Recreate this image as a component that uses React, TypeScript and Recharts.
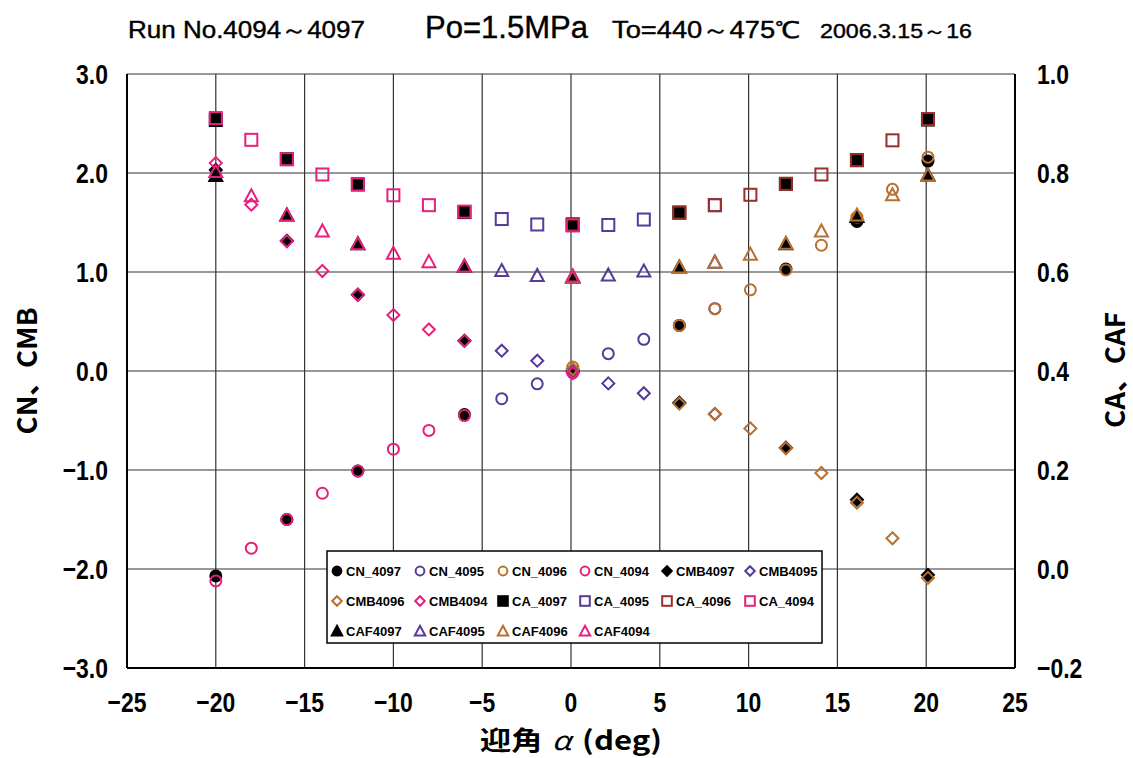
import React from "react";
import {
  ScatterChart,
  Scatter,
  XAxis,
  YAxis,
  CartesianGrid,
} from "recharts";

// 迎角 (deg) for each run
const alpha4097 = [-20, -16, -12, -6, 0.1, 6.1, 12.1, 16.1, 20.1];
const alpha4095 = [-3.9, -1.9, 0.1, 2.1, 4.1, 8.1];
const alpha4096 = [0.1, 6.1, 8.1, 10.1, 12.1, 14.1, 16.1, 18.1, 20.1];
const alpha4094 = [-20, -18, -16, -14, -12, -10, -8, -6, 0.1];

// CN (left axis)
const cn4097 = [-2.07, -1.5, -1.01, -0.44, 0.0, 0.46, 1.03, 1.51, 2.12];
const cn4095 = [-0.28, -0.13, 0.0, 0.175, 0.32, 0.63];
const cn4096 = [0.04, 0.46, 0.63, 0.82, 1.02, 1.27, 1.555, 1.835, 2.16];
const cn4094 = [-2.12, -1.79, -1.5, -1.235, -1.01, -0.79, -0.6, -0.45, -0.02];

// CMB (left axis)
const cmb4097 = [2.03, 1.315, 0.77, 0.305, 0.0, -0.32, -0.775, -1.3, -2.06];
const cmb4095 = [0.205, 0.104, 0.0, -0.125, -0.225, -0.435];
const cmb4096 = [0.02, -0.33, -0.435, -0.58, -0.78, -1.03, -1.33, -1.69, -2.09];
const cmb4094 = [2.1, 1.68, 1.31, 1.01, 0.77, 0.565, 0.42, 0.305, -0.02];

// CA (right axis)
const ca4097 = [0.907, 0.828, 0.777, 0.721, 0.696, 0.72, 0.778, 0.826, 0.908];
const ca4095 = [0.707, 0.696, 0.696, 0.695, 0.706, 0.735];
const ca4096 = [0.695, 0.72, 0.735, 0.756, 0.778, 0.797, 0.826, 0.866, 0.909];
const ca4094 = [0.911, 0.867, 0.828, 0.797, 0.777, 0.755, 0.735, 0.722, 0.694];

// CAF (right axis)
const caf4097 = [0.795, 0.715, 0.657, 0.612, 0.59, 0.61, 0.657, 0.712, 0.796];
const caf4095 = [0.603, 0.593, 0.59, 0.594, 0.602, 0.62];
const caf4096 = [0.59, 0.61, 0.62, 0.636, 0.658, 0.683, 0.715, 0.756, 0.796];
const caf4094 = [0.803, 0.754, 0.715, 0.683, 0.657, 0.638, 0.621, 0.612, 0.592];

const xTicks = [-25, -20, -15, -10, -5, 0, 5, 10, 15, 20, 25];
const leftTicks = [-3, -2, -1, 0, 1, 2, 3];
const rightTicks = [-0.2, 0, 0.2, 0.4, 0.6, 0.8, 1.0];

const BLACK = "#000000";
const PURPLE = "#553a9c";
const BROWN = "#b8702e";
const DARKRED = "#9a2e2a";
const PINK = "#e5207e";

const FONT = "'Liberation Sans', Arial, sans-serif";
const JFONT = "'Noto Sans CJK JP', 'Liberation Sans', sans-serif";

const zip = (xs: number[], ys: number[]) => xs.map((x, i) => ({ x, y: ys[i] }));

type Kind = "circle" | "diamond" | "square" | "triangle";

function marker(kind: Kind, color: string, filled: boolean, cx: number, cy: number, s = 1) {
  const fill = filled ? color : "none";
  const sw = 2;
  if (kind === "circle") {
    return <circle cx={cx} cy={cy} r={5.5 * s} fill={fill} stroke={color} strokeWidth={sw} />;
  }
  if (kind === "square") {
    const h = 6 * s;
    return <rect x={cx - h} y={cy - h} width={h * 2} height={h * 2} fill={fill} stroke={color} strokeWidth={sw} />;
  }
  if (kind === "diamond") {
    const h = 6 * s;
    return (
      <polygon
        points={`${cx},${cy - h} ${cx + h},${cy} ${cx},${cy + h} ${cx - h},${cy}`}
        fill={fill}
        stroke={color}
        strokeWidth={sw}
      />
    );
  }
  const h = 6.5 * s;
  return (
    <polygon
      points={`${cx},${cy - h} ${cx + h},${cy + h * 0.85} ${cx - h},${cy + h * 0.85}`}
      fill={fill}
      stroke={color}
      strokeWidth={sw}
    />
  );
}

const series = [
  { name: "CN_4097", kind: "circle", color: BLACK, filled: true, axis: "left", data: zip(alpha4097, cn4097) },
  { name: "CN_4095", kind: "circle", color: PURPLE, filled: false, axis: "left", data: zip(alpha4095, cn4095) },
  { name: "CN_4096", kind: "circle", color: BROWN, filled: false, axis: "left", data: zip(alpha4096, cn4096) },
  { name: "CN_4094", kind: "circle", color: PINK, filled: false, axis: "left", data: zip(alpha4094, cn4094) },
  { name: "CMB4097", kind: "diamond", color: BLACK, filled: true, axis: "left", data: zip(alpha4097, cmb4097) },
  { name: "CMB4095", kind: "diamond", color: PURPLE, filled: false, axis: "left", data: zip(alpha4095, cmb4095) },
  { name: "CMB4096", kind: "diamond", color: BROWN, filled: false, axis: "left", data: zip(alpha4096, cmb4096) },
  { name: "CMB4094", kind: "diamond", color: PINK, filled: false, axis: "left", data: zip(alpha4094, cmb4094) },
  { name: "CA_4097", kind: "square", color: BLACK, filled: true, axis: "right", data: zip(alpha4097, ca4097) },
  { name: "CA_4095", kind: "square", color: PURPLE, filled: false, axis: "right", data: zip(alpha4095, ca4095) },
  { name: "CA_4096", kind: "square", color: DARKRED, filled: false, axis: "right", data: zip(alpha4096, ca4096) },
  { name: "CA_4094", kind: "square", color: PINK, filled: false, axis: "right", data: zip(alpha4094, ca4094) },
  { name: "CAF4097", kind: "triangle", color: BLACK, filled: true, axis: "right", data: zip(alpha4097, caf4097) },
  { name: "CAF4095", kind: "triangle", color: PURPLE, filled: false, axis: "right", data: zip(alpha4095, caf4095) },
  { name: "CAF4096", kind: "triangle", color: BROWN, filled: false, axis: "right", data: zip(alpha4096, caf4096) },
  { name: "CAF4094", kind: "triangle", color: PINK, filled: false, axis: "right", data: zip(alpha4094, caf4094) },
] as { name: string; kind: Kind; color: string; filled: boolean; axis: string; data: { x: number; y: number }[] }[];

const minus = (s: string) => s.replace("-", "\u2212");

// condensed, tall bold tick labels
function makeTick(fmt: (v: number) => string, anchor: string, dy: string) {
  return (p: any) => (
    <g transform={`translate(${p.x},${p.y})`}>
      <text
        x={0}
        y={0}
        dy={dy}
        textAnchor={anchor}
        transform="scale(0.82,1)"
        fill="#000"
        fontSize={28}
        fontWeight="bold"
        fontFamily={FONT}
      >
        {fmt(p.payload.value)}
      </text>
    </g>
  );
}

const fmtX = (v: number) => minus(String(v));
const fmtY = (v: number) => minus(v.toFixed(1));

// legend layout: 6 columns, 3 rows
const legendCols = [337, 420, 503, 585, 667, 750];
const legendRows = [571, 601, 631];

export default function App() {
  return (
    <div style={{ position: "absolute", left: 0, top: 0, width: 1133, height: 758, background: "#fff" }}>
      <ScatterChart width={1133} height={758} margin={{ top: 74, right: 18, bottom: 50, left: 27 }}>
        <CartesianGrid yAxisId="left" stroke="#333" strokeWidth={1.2} />
        <XAxis
          type="number"
          dataKey="x"
          domain={[-25, 25]}
          ticks={xTicks}
          height={40}
          tickLine={false}
          tickSize={0}
          tickMargin={24}
          axisLine={{ stroke: "#000", strokeWidth: 2 }}
          tick={makeTick(fmtX, "middle", "0.7em")}
        />
        <YAxis
          yAxisId="left"
          type="number"
          dataKey="y"
          domain={[-3, 3]}
          ticks={leftTicks}
          width={100}
          tickLine={false}
          tickSize={0}
          tickMargin={19}
          axisLine={{ stroke: "#000", strokeWidth: 2 }}
          tick={makeTick(fmtY, "end", "0.36em")}
        />
        <YAxis
          yAxisId="right"
          orientation="right"
          type="number"
          dataKey="y"
          domain={[-0.2, 1.0]}
          ticks={rightTicks}
          width={100}
          tickLine={false}
          tickSize={0}
          tickMargin={22}
          axisLine={{ stroke: "#000", strokeWidth: 2 }}
          tick={makeTick(fmtY, "start", "0.36em")}
        />
        {series.map((s) => (
          <Scatter
            key={s.name}
            name={s.name}
            data={s.data}
            yAxisId={s.axis}
            isAnimationActive={false}
            shape={(p: any) => marker(s.kind, s.color, s.filled, p.cx, p.cy)}
          />
        ))}
      </ScatterChart>
      <svg
        width={1133}
        height={758}
        style={{ position: "absolute", left: 0, top: 0, pointerEvents: "none" }}
      >
        <g fontFamily={FONT} fill="#000" stroke="#000" strokeWidth={0.4}>
          <text x={128} y={38} fontSize={23} textLength={237} lengthAdjust="spacingAndGlyphs">
            Run No.4094～4097
          </text>
          <text x={425} y={38} fontSize={31} textLength={163} lengthAdjust="spacingAndGlyphs">
            Po=1.5MPa
          </text>
          <text x={612} y={38} fontSize={23} textLength={188} lengthAdjust="spacingAndGlyphs">
            To=440～475℃
          </text>
          <text x={820} y={38} fontSize={20} textLength={152} lengthAdjust="spacingAndGlyphs">
            2006.3.15～16
          </text>
        </g>

        <text
          x={0}
          y={0}
          transform="translate(37,371) rotate(-90)"
          textAnchor="middle"
          fontFamily={JFONT}
          fontWeight="bold"
          fontSize={27}
          textLength={127}
          lengthAdjust="spacingAndGlyphs"
        >
          CN、CMB
        </text>
        <text
          x={0}
          y={0}
          transform="translate(1125,370) rotate(-90)"
          textAnchor="middle"
          fontFamily={JFONT}
          fontWeight="bold"
          fontSize={27}
          textLength={116}
          lengthAdjust="spacingAndGlyphs"
        >
          CA、CAF
        </text>
        <text
          x={571}
          y={750}
          textAnchor="middle"
          fontFamily={JFONT}
          fontWeight="bold"
          fontSize={26}
          textLength={182}
          lengthAdjust="spacingAndGlyphs"
        >
          <tspan>迎角</tspan>
          <tspan dx={8} fontStyle="italic" fontWeight="normal">α</tspan>
          <tspan dx={9}>(deg)</tspan>
        </text>

        <rect x={327} y={551} width={495} height={92} fill="#fff" stroke="#000" strokeWidth={1.5} />
        {series.map((s, i) => {
          const cx = legendCols[i % 6];
          const cy = legendRows[Math.floor(i / 6)];
          return (
            <g key={s.name}>
              {marker(s.kind, s.color, s.filled, cx, cy, 0.8)}
              <text
                x={cx + 9}
                y={cy + 5}
                fontFamily={FONT}
                fontWeight="bold"
                fontSize={13}
                fill="#000"
              >
                {s.name}
              </text>
            </g>
          );
        })}
      </svg>
    </div>
  );
}
